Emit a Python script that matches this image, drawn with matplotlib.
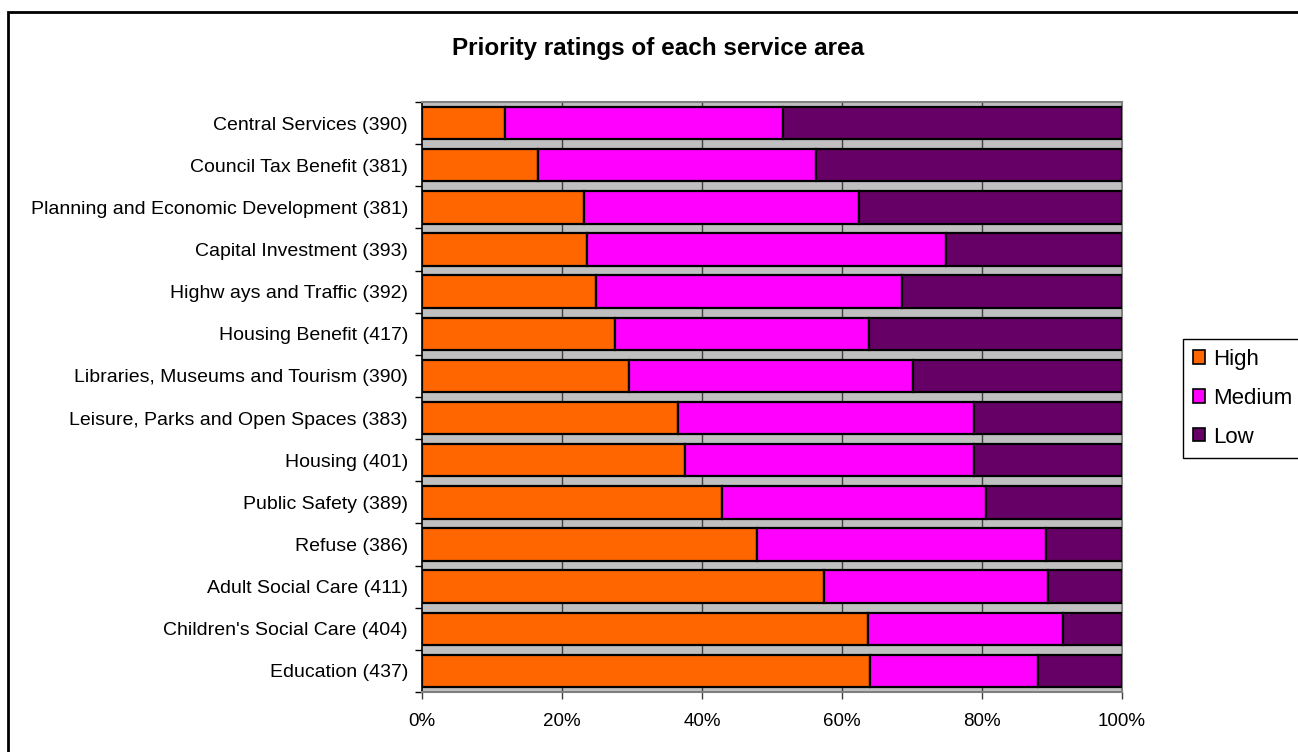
import matplotlib
matplotlib.use("Agg")
import matplotlib.pyplot as plt
import matplotlib.patches as mpatches
import numpy as np

plt.rcParams['font.family'] = ['Liberation Sans', 'DejaVu Sans']

categories = [
    "Central Services (390)",
    "Council Tax Benefit (381)",
    "Planning and Economic Development (381)",
    "Capital Investment (393)",
    "Highw ays and Traffic (392)",
    "Housing Benefit (417)",
    "Libraries, Museums and Tourism (390)",
    "Leisure, Parks and Open Spaces (383)",
    "Housing (401)",
    "Public Safety (389)",
    "Refuse (386)",
    "Adult Social Care (411)",
    "Children's Social Care (404)",
    "Education (437)",
]
high = [11.8, 16.6, 23.2, 23.5, 24.8, 27.5, 29.6, 36.6, 37.5, 42.8, 47.8, 57.4, 63.7, 64.0]
medium = [39.7, 39.7, 39.2, 51.3, 43.7, 36.4, 40.5, 42.2, 41.3, 37.8, 41.4, 32.0, 27.8, 24.0]
low = [48.5, 43.7, 37.6, 25.2, 31.5, 36.1, 29.9, 21.2, 21.2, 19.4, 10.8, 10.6, 8.5, 12.0]
series_names = ["High", "Medium", "Low"]
colors = ["#FF6600", "#FF00FF", "#660066"]
xticks = [0, 20, 40, 60, 80, 100]
xtick_labels = ["0%", "20%", "40%", "60%", "80%", "100%"]

W, H = 1298, 752
fig = plt.figure(figsize=(W / 100, H / 100), dpi=100)
ax = fig.add_axes([422 / W, 1 - 692 / H, 700 / W, 590 / H])
ax.set_facecolor("#C0C0C0")

n = len(categories)
y = np.arange(n)[::-1]
left = np.zeros(n)
for vals, name, c in zip([high, medium, low], series_names, colors):
    v = np.array(vals, dtype=float)
    ax.barh(y, v, left=left, height=0.77, color=c, edgecolor="black",
            linewidth=1.6, label=name, zorder=3)
    left = left + v

ax.set_xlim(0, 100)
ax.set_ylim(-0.5, n - 0.5)
for gx in [20, 40, 60, 80]:
    ax.axvline(gx, color="#404040", lw=1.0, zorder=1)

ax.set_xticks(xticks)
ax.set_xticklabels(xtick_labels, fontsize=13.5)
ax.set_yticks(y)
ax.set_yticklabels(categories, fontsize=14)
ax.tick_params(axis="y", which="major", length=0, pad=10)
ax.set_yticks(np.arange(-0.5, n, 1.0), minor=True)
ax.tick_params(axis="y", which="minor", length=5, direction="out", color="black", width=1)
ax.tick_params(axis="x", which="major", length=5, direction="out", color="#404040", width=1, pad=10)

ax.spines["left"].set_color("black")
ax.spines["left"].set_linewidth(1.2)
for s in ["top", "right", "bottom"]:
    ax.spines[s].set_color("#808080")
    ax.spines[s].set_linewidth(1.5)

fig.text(658 / W, 1 - 49 / H, "Priority ratings of each service area", ha="center",
         va="center", fontsize=17.5, fontweight="bold")

handles = [mpatches.Patch(facecolor=c, edgecolor="black", linewidth=1.2) for c in colors]
leg = fig.legend(handles, series_names, loc="upper left",
                 bbox_to_anchor=(1183 / W, 1 - 339 / H), bbox_transform=fig.transFigure,
                 fontsize=16, handlelength=0.55, handleheight=0.55, handletextpad=0.35,
                 labelspacing=0.8, borderpad=0.45, borderaxespad=0, fancybox=False,
                 framealpha=1, edgecolor="black")
leg.get_frame().set_linewidth(1)

frame = mpatches.Rectangle((8 / W, -0.05), 1.2, (1 - 12 / H) + 0.05, transform=fig.transFigure,
                           fill=False, edgecolor="black", linewidth=2, clip_on=False)
fig.patches.append(frame)

fig.savefig("out.png", dpi=100)
